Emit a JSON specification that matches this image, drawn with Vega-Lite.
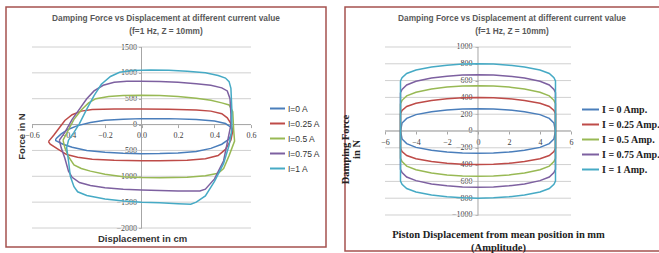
{
  "$schema": "https://vega.github.io/schema/vega-lite/v6.json",
  "padding": {"left": 5, "top": 6, "right": 0, "bottom": 0},
  "background": "white",
  "spacing": 12,
  "config": {
    "view": {"stroke": "#a5524f", "strokeWidth": 1.5},
    "axis": {"labelOverlap": false, "labelFlush": false, "labelBound": false},
    "title": {"anchor": "middle", "font": "Liberation Sans", "fontSize": 8.3, "fontWeight": "bold", "color": "#595959", "subtitleFont": "Liberation Sans", "subtitleFontSize": 8.3, "subtitleFontWeight": "bold", "subtitleColor": "#595959", "subtitlePadding": 4, "offset": -28}
  },
  "resolve": {"scale": {"color": "independent", "x": "independent", "y": "independent"}, "legend": {"color": "independent"}},
  "datasets": {
    "left": [
      {"c":"I=0 A","o":1,"x":-0.47,"y":-280},{"c":"I=0 A","o":2,"x":-0.44,"y":-180},{"c":"I=0 A","o":3,"x":-0.40,"y":-90},{"c":"I=0 A","o":4,"x":-0.35,"y":-20},{"c":"I=0 A","o":5,"x":-0.28,"y":40},{"c":"I=0 A","o":6,"x":-0.2,"y":85},{"c":"I=0 A","o":7,"x":-0.1,"y":105},{"c":"I=0 A","o":8,"x":0,"y":115},{"c":"I=0 A","o":9,"x":0.15,"y":115},{"c":"I=0 A","o":10,"x":0.3,"y":100},{"c":"I=0 A","o":11,"x":0.4,"y":70},{"c":"I=0 A","o":12,"x":0.46,"y":20},{"c":"I=0 A","o":13,"x":0.49,"y":-50},{"c":"I=0 A","o":14,"x":0.5,"y":-130},{"c":"I=0 A","o":15,"x":0.48,"y":-280},{"c":"I=0 A","o":16,"x":0.44,"y":-380},{"c":"I=0 A","o":17,"x":0.38,"y":-460},{"c":"I=0 A","o":18,"x":0.3,"y":-520},{"c":"I=0 A","o":19,"x":0.2,"y":-550},{"c":"I=0 A","o":20,"x":0.1,"y":-560},{"c":"I=0 A","o":21,"x":0,"y":-562},{"c":"I=0 A","o":22,"x":-0.1,"y":-555},{"c":"I=0 A","o":23,"x":-0.2,"y":-535},{"c":"I=0 A","o":24,"x":-0.3,"y":-500},{"c":"I=0 A","o":25,"x":-0.38,"y":-440},{"c":"I=0 A","o":26,"x":-0.43,"y":-380},{"c":"I=0 A","o":27,"x":-0.47,"y":-310},{"c":"I=0 A","o":28,"x":-0.47,"y":-280},
      {"c":"I=0.25 A","o":1,"x":-0.51,"y":-330},{"c":"I=0.25 A","o":2,"x":-0.48,"y":-200},{"c":"I=0.25 A","o":3,"x":-0.45,"y":-60},{"c":"I=0.25 A","o":4,"x":-0.42,"y":80},{"c":"I=0.25 A","o":5,"x":-0.38,"y":190},{"c":"I=0.25 A","o":6,"x":-0.33,"y":260},{"c":"I=0.25 A","o":7,"x":-0.27,"y":290},{"c":"I=0.25 A","o":8,"x":-0.15,"y":300},{"c":"I=0.25 A","o":9,"x":0,"y":300},{"c":"I=0.25 A","o":10,"x":0.15,"y":295},{"c":"I=0.25 A","o":11,"x":0.3,"y":280},{"c":"I=0.25 A","o":12,"x":0.38,"y":260},{"c":"I=0.25 A","o":13,"x":0.44,"y":210},{"c":"I=0.25 A","o":14,"x":0.47,"y":130},{"c":"I=0.25 A","o":15,"x":0.49,"y":20},{"c":"I=0.25 A","o":16,"x":0.5,"y":-120},{"c":"I=0.25 A","o":17,"x":0.49,"y":-300},{"c":"I=0.25 A","o":18,"x":0.46,"y":-480},{"c":"I=0.25 A","o":19,"x":0.42,"y":-600},{"c":"I=0.25 A","o":20,"x":0.35,"y":-660},{"c":"I=0.25 A","o":21,"x":0.25,"y":-690},{"c":"I=0.25 A","o":22,"x":0.1,"y":-700},{"c":"I=0.25 A","o":23,"x":0,"y":-700},{"c":"I=0.25 A","o":24,"x":-0.15,"y":-690},{"c":"I=0.25 A","o":25,"x":-0.27,"y":-670},{"c":"I=0.25 A","o":26,"x":-0.35,"y":-630},{"c":"I=0.25 A","o":27,"x":-0.41,"y":-580},{"c":"I=0.25 A","o":28,"x":-0.46,"y":-470},{"c":"I=0.25 A","o":29,"x":-0.5,"y":-380},{"c":"I=0.25 A","o":30,"x":-0.51,"y":-330},
      {"c":"I=0.5 A","o":1,"x":-0.43,"y":-300},{"c":"I=0.5 A","o":2,"x":-0.40,"y":-100},{"c":"I=0.5 A","o":3,"x":-0.37,"y":100},{"c":"I=0.5 A","o":4,"x":-0.33,"y":280},{"c":"I=0.5 A","o":5,"x":-0.29,"y":420},{"c":"I=0.5 A","o":6,"x":-0.25,"y":500},{"c":"I=0.5 A","o":7,"x":-0.18,"y":545},{"c":"I=0.5 A","o":8,"x":-0.1,"y":560},{"c":"I=0.5 A","o":9,"x":0,"y":565},{"c":"I=0.5 A","o":10,"x":0.1,"y":560},{"c":"I=0.5 A","o":11,"x":0.2,"y":545},{"c":"I=0.5 A","o":12,"x":0.3,"y":510},{"c":"I=0.5 A","o":13,"x":0.38,"y":470},{"c":"I=0.5 A","o":14,"x":0.44,"y":420},{"c":"I=0.5 A","o":15,"x":0.48,"y":380},{"c":"I=0.5 A","o":16,"x":0.5,"y":250},{"c":"I=0.5 A","o":17,"x":0.505,"y":-100},{"c":"I=0.5 A","o":18,"x":0.51,"y":-320},{"c":"I=0.5 A","o":19,"x":0.48,"y":-600},{"c":"I=0.5 A","o":20,"x":0.45,"y":-850},{"c":"I=0.5 A","o":21,"x":0.42,"y":-940},{"c":"I=0.5 A","o":22,"x":0.35,"y":-990},{"c":"I=0.5 A","o":23,"x":0.25,"y":-1020},{"c":"I=0.5 A","o":24,"x":0.1,"y":-1030},{"c":"I=0.5 A","o":25,"x":0,"y":-1025},{"c":"I=0.5 A","o":26,"x":-0.1,"y":-1010},{"c":"I=0.5 A","o":27,"x":-0.2,"y":-960},{"c":"I=0.5 A","o":28,"x":-0.28,"y":-900},{"c":"I=0.5 A","o":29,"x":-0.33,"y":-850},{"c":"I=0.5 A","o":30,"x":-0.37,"y":-780},{"c":"I=0.5 A","o":31,"x":-0.40,"y":-620},{"c":"I=0.5 A","o":32,"x":-0.42,"y":-450},{"c":"I=0.5 A","o":33,"x":-0.43,"y":-300},
      {"c":"I=0.75 A","o":1,"x":-0.45,"y":-300},{"c":"I=0.75 A","o":2,"x":-0.42,"y":-150},{"c":"I=0.75 A","o":3,"x":-0.38,"y":100},{"c":"I=0.75 A","o":4,"x":-0.34,"y":300},{"c":"I=0.75 A","o":5,"x":-0.30,"y":500},{"c":"I=0.75 A","o":6,"x":-0.26,"y":650},{"c":"I=0.75 A","o":7,"x":-0.21,"y":760},{"c":"I=0.75 A","o":8,"x":-0.15,"y":820},{"c":"I=0.75 A","o":9,"x":-0.08,"y":840},{"c":"I=0.75 A","o":10,"x":0,"y":840},{"c":"I=0.75 A","o":11,"x":0.1,"y":835},{"c":"I=0.75 A","o":12,"x":0.2,"y":820},{"c":"I=0.75 A","o":13,"x":0.3,"y":790},{"c":"I=0.75 A","o":14,"x":0.38,"y":760},{"c":"I=0.75 A","o":15,"x":0.44,"y":710},{"c":"I=0.75 A","o":16,"x":0.47,"y":650},{"c":"I=0.75 A","o":17,"x":0.485,"y":500},{"c":"I=0.75 A","o":18,"x":0.49,"y":200},{"c":"I=0.75 A","o":19,"x":0.49,"y":0},{"c":"I=0.75 A","o":20,"x":0.47,"y":-350},{"c":"I=0.75 A","o":21,"x":0.45,"y":-700},{"c":"I=0.75 A","o":22,"x":0.40,"y":-1050},{"c":"I=0.75 A","o":23,"x":0.35,"y":-1250},{"c":"I=0.75 A","o":24,"x":0.32,"y":-1285},{"c":"I=0.75 A","o":25,"x":0.2,"y":-1285},{"c":"I=0.75 A","o":26,"x":0.1,"y":-1275},{"c":"I=0.75 A","o":27,"x":0,"y":-1265},{"c":"I=0.75 A","o":28,"x":-0.1,"y":-1250},{"c":"I=0.75 A","o":29,"x":-0.2,"y":-1220},{"c":"I=0.75 A","o":30,"x":-0.28,"y":-1180},{"c":"I=0.75 A","o":31,"x":-0.34,"y":-1120},{"c":"I=0.75 A","o":32,"x":-0.38,"y":-1020},{"c":"I=0.75 A","o":33,"x":-0.40,"y":-900},{"c":"I=0.75 A","o":34,"x":-0.42,"y":-650},{"c":"I=0.75 A","o":35,"x":-0.44,"y":-450},{"c":"I=0.75 A","o":36,"x":-0.45,"y":-300},
      {"c":"I=1 A","o":1,"x":-0.40,"y":-300},{"c":"I=1 A","o":2,"x":-0.37,"y":-150},{"c":"I=1 A","o":3,"x":-0.34,"y":20},{"c":"I=1 A","o":4,"x":-0.30,"y":300},{"c":"I=1 A","o":5,"x":-0.26,"y":560},{"c":"I=1 A","o":6,"x":-0.22,"y":780},{"c":"I=1 A","o":7,"x":-0.17,"y":930},{"c":"I=1 A","o":8,"x":-0.12,"y":1010},{"c":"I=1 A","o":9,"x":-0.05,"y":1045},{"c":"I=1 A","o":10,"x":0.05,"y":1055},{"c":"I=1 A","o":11,"x":0.15,"y":1050},{"c":"I=1 A","o":12,"x":0.25,"y":1030},{"c":"I=1 A","o":13,"x":0.35,"y":1000},{"c":"I=1 A","o":14,"x":0.42,"y":950},{"c":"I=1 A","o":15,"x":0.46,"y":900},{"c":"I=1 A","o":16,"x":0.48,"y":830},{"c":"I=1 A","o":17,"x":0.49,"y":700},{"c":"I=1 A","o":18,"x":0.495,"y":300},{"c":"I=1 A","o":19,"x":0.495,"y":-100},{"c":"I=1 A","o":20,"x":0.48,"y":-400},{"c":"I=1 A","o":21,"x":0.45,"y":-750},{"c":"I=1 A","o":22,"x":0.40,"y":-1100},{"c":"I=1 A","o":23,"x":0.35,"y":-1380},{"c":"I=1 A","o":24,"x":0.30,"y":-1500},{"c":"I=1 A","o":25,"x":0.27,"y":-1540},{"c":"I=1 A","o":26,"x":0.2,"y":-1530},{"c":"I=1 A","o":27,"x":0.1,"y":-1510},{"c":"I=1 A","o":28,"x":0,"y":-1500},{"c":"I=1 A","o":29,"x":-0.1,"y":-1480},{"c":"I=1 A","o":30,"x":-0.2,"y":-1440},{"c":"I=1 A","o":31,"x":-0.3,"y":-1370},{"c":"I=1 A","o":32,"x":-0.35,"y":-1300},{"c":"I=1 A","o":33,"x":-0.37,"y":-1200},{"c":"I=1 A","o":34,"x":-0.39,"y":-1000},{"c":"I=1 A","o":35,"x":-0.40,"y":-700},{"c":"I=1 A","o":36,"x":-0.41,"y":-450},{"c":"I=1 A","o":37,"x":-0.40,"y":-300}
    ],
    "right": [
      {"c":"I = 0 Amp.","o":1,"x":-5,"y":0},{"c":"I = 0 Amp.","o":2,"x":-4.9,"y":95},{"c":"I = 0 Amp.","o":3,"x":-4.6,"y":150},{"c":"I = 0 Amp.","o":4,"x":-4,"y":195},{"c":"I = 0 Amp.","o":5,"x":-3,"y":230},{"c":"I = 0 Amp.","o":6,"x":-2,"y":250},{"c":"I = 0 Amp.","o":7,"x":-1,"y":262},{"c":"I = 0 Amp.","o":8,"x":0,"y":265},{"c":"I = 0 Amp.","o":9,"x":1,"y":262},{"c":"I = 0 Amp.","o":10,"x":2,"y":250},{"c":"I = 0 Amp.","o":11,"x":3,"y":230},{"c":"I = 0 Amp.","o":12,"x":4,"y":195},{"c":"I = 0 Amp.","o":13,"x":4.6,"y":150},{"c":"I = 0 Amp.","o":14,"x":4.9,"y":95},{"c":"I = 0 Amp.","o":15,"x":5,"y":0},{"c":"I = 0 Amp.","o":16,"x":4.9,"y":-95},{"c":"I = 0 Amp.","o":17,"x":4.6,"y":-150},{"c":"I = 0 Amp.","o":18,"x":4,"y":-195},{"c":"I = 0 Amp.","o":19,"x":3,"y":-230},{"c":"I = 0 Amp.","o":20,"x":2,"y":-250},{"c":"I = 0 Amp.","o":21,"x":1,"y":-262},{"c":"I = 0 Amp.","o":22,"x":0,"y":-265},{"c":"I = 0 Amp.","o":23,"x":-1,"y":-262},{"c":"I = 0 Amp.","o":24,"x":-2,"y":-250},{"c":"I = 0 Amp.","o":25,"x":-3,"y":-230},{"c":"I = 0 Amp.","o":26,"x":-4,"y":-195},{"c":"I = 0 Amp.","o":27,"x":-4.6,"y":-150},{"c":"I = 0 Amp.","o":28,"x":-4.9,"y":-95},{"c":"I = 0 Amp.","o":29,"x":-5,"y":0},
      {"c":"I = 0.25 Amp.","o":1,"x":-5,"y":205},{"c":"I = 0.25 Amp.","o":2,"x":-4.9,"y":245},{"c":"I = 0.25 Amp.","o":3,"x":-4.6,"y":292},{"c":"I = 0.25 Amp.","o":4,"x":-4,"y":330},{"c":"I = 0.25 Amp.","o":5,"x":-3,"y":364},{"c":"I = 0.25 Amp.","o":6,"x":-2,"y":385},{"c":"I = 0.25 Amp.","o":7,"x":-1,"y":396},{"c":"I = 0.25 Amp.","o":8,"x":0,"y":400},{"c":"I = 0.25 Amp.","o":9,"x":1,"y":396},{"c":"I = 0.25 Amp.","o":10,"x":2,"y":385},{"c":"I = 0.25 Amp.","o":11,"x":3,"y":364},{"c":"I = 0.25 Amp.","o":12,"x":4,"y":330},{"c":"I = 0.25 Amp.","o":13,"x":4.6,"y":292},{"c":"I = 0.25 Amp.","o":14,"x":4.9,"y":245},{"c":"I = 0.25 Amp.","o":15,"x":5,"y":205},{"c":"I = 0.25 Amp.","o":16,"x":5,"y":-205},{"c":"I = 0.25 Amp.","o":17,"x":4.9,"y":-245},{"c":"I = 0.25 Amp.","o":18,"x":4.6,"y":-292},{"c":"I = 0.25 Amp.","o":19,"x":4,"y":-330},{"c":"I = 0.25 Amp.","o":20,"x":3,"y":-364},{"c":"I = 0.25 Amp.","o":21,"x":2,"y":-385},{"c":"I = 0.25 Amp.","o":22,"x":1,"y":-396},{"c":"I = 0.25 Amp.","o":23,"x":0,"y":-400},{"c":"I = 0.25 Amp.","o":24,"x":-1,"y":-396},{"c":"I = 0.25 Amp.","o":25,"x":-2,"y":-385},{"c":"I = 0.25 Amp.","o":26,"x":-3,"y":-364},{"c":"I = 0.25 Amp.","o":27,"x":-4,"y":-330},{"c":"I = 0.25 Amp.","o":28,"x":-4.6,"y":-292},{"c":"I = 0.25 Amp.","o":29,"x":-4.9,"y":-245},{"c":"I = 0.25 Amp.","o":30,"x":-5,"y":-205},{"c":"I = 0.25 Amp.","o":31,"x":-5,"y":205},
      {"c":"I = 0.5 Amp.","o":1,"x":-5,"y":325},{"c":"I = 0.5 Amp.","o":2,"x":-4.9,"y":365},{"c":"I = 0.5 Amp.","o":3,"x":-4.6,"y":418},{"c":"I = 0.5 Amp.","o":4,"x":-4,"y":461},{"c":"I = 0.5 Amp.","o":5,"x":-3,"y":500},{"c":"I = 0.5 Amp.","o":6,"x":-2,"y":523},{"c":"I = 0.5 Amp.","o":7,"x":-1,"y":536},{"c":"I = 0.5 Amp.","o":8,"x":0,"y":540},{"c":"I = 0.5 Amp.","o":9,"x":1,"y":536},{"c":"I = 0.5 Amp.","o":10,"x":2,"y":523},{"c":"I = 0.5 Amp.","o":11,"x":3,"y":500},{"c":"I = 0.5 Amp.","o":12,"x":4,"y":461},{"c":"I = 0.5 Amp.","o":13,"x":4.6,"y":418},{"c":"I = 0.5 Amp.","o":14,"x":4.9,"y":365},{"c":"I = 0.5 Amp.","o":15,"x":5,"y":325},{"c":"I = 0.5 Amp.","o":16,"x":5,"y":-325},{"c":"I = 0.5 Amp.","o":17,"x":4.9,"y":-365},{"c":"I = 0.5 Amp.","o":18,"x":4.6,"y":-418},{"c":"I = 0.5 Amp.","o":19,"x":4,"y":-461},{"c":"I = 0.5 Amp.","o":20,"x":3,"y":-500},{"c":"I = 0.5 Amp.","o":21,"x":2,"y":-523},{"c":"I = 0.5 Amp.","o":22,"x":1,"y":-536},{"c":"I = 0.5 Amp.","o":23,"x":0,"y":-540},{"c":"I = 0.5 Amp.","o":24,"x":-1,"y":-536},{"c":"I = 0.5 Amp.","o":25,"x":-2,"y":-523},{"c":"I = 0.5 Amp.","o":26,"x":-3,"y":-500},{"c":"I = 0.5 Amp.","o":27,"x":-4,"y":-461},{"c":"I = 0.5 Amp.","o":28,"x":-4.6,"y":-418},{"c":"I = 0.5 Amp.","o":29,"x":-4.9,"y":-365},{"c":"I = 0.5 Amp.","o":30,"x":-5,"y":-325},{"c":"I = 0.5 Amp.","o":31,"x":-5,"y":325},
      {"c":"I = 0.75 Amp.","o":1,"x":-5,"y":455},{"c":"I = 0.75 Amp.","o":2,"x":-4.9,"y":495},{"c":"I = 0.75 Amp.","o":3,"x":-4.6,"y":548},{"c":"I = 0.75 Amp.","o":4,"x":-4,"y":591},{"c":"I = 0.75 Amp.","o":5,"x":-3,"y":630},{"c":"I = 0.75 Amp.","o":6,"x":-2,"y":653},{"c":"I = 0.75 Amp.","o":7,"x":-1,"y":666},{"c":"I = 0.75 Amp.","o":8,"x":0,"y":670},{"c":"I = 0.75 Amp.","o":9,"x":1,"y":666},{"c":"I = 0.75 Amp.","o":10,"x":2,"y":653},{"c":"I = 0.75 Amp.","o":11,"x":3,"y":630},{"c":"I = 0.75 Amp.","o":12,"x":4,"y":591},{"c":"I = 0.75 Amp.","o":13,"x":4.6,"y":548},{"c":"I = 0.75 Amp.","o":14,"x":4.9,"y":495},{"c":"I = 0.75 Amp.","o":15,"x":5,"y":455},{"c":"I = 0.75 Amp.","o":16,"x":5,"y":-455},{"c":"I = 0.75 Amp.","o":17,"x":4.9,"y":-495},{"c":"I = 0.75 Amp.","o":18,"x":4.6,"y":-548},{"c":"I = 0.75 Amp.","o":19,"x":4,"y":-591},{"c":"I = 0.75 Amp.","o":20,"x":3,"y":-630},{"c":"I = 0.75 Amp.","o":21,"x":2,"y":-653},{"c":"I = 0.75 Amp.","o":22,"x":1,"y":-666},{"c":"I = 0.75 Amp.","o":23,"x":0,"y":-670},{"c":"I = 0.75 Amp.","o":24,"x":-1,"y":-666},{"c":"I = 0.75 Amp.","o":25,"x":-2,"y":-653},{"c":"I = 0.75 Amp.","o":26,"x":-3,"y":-630},{"c":"I = 0.75 Amp.","o":27,"x":-4,"y":-591},{"c":"I = 0.75 Amp.","o":28,"x":-4.6,"y":-548},{"c":"I = 0.75 Amp.","o":29,"x":-4.9,"y":-495},{"c":"I = 0.75 Amp.","o":30,"x":-5,"y":-455},{"c":"I = 0.75 Amp.","o":31,"x":-5,"y":455},
      {"c":"I = 1 Amp.","o":1,"x":-5,"y":595},{"c":"I = 1 Amp.","o":2,"x":-4.9,"y":635},{"c":"I = 1 Amp.","o":3,"x":-4.6,"y":685},{"c":"I = 1 Amp.","o":4,"x":-4,"y":726},{"c":"I = 1 Amp.","o":5,"x":-3,"y":762},{"c":"I = 1 Amp.","o":6,"x":-2,"y":784},{"c":"I = 1 Amp.","o":7,"x":-1,"y":796},{"c":"I = 1 Amp.","o":8,"x":0,"y":800},{"c":"I = 1 Amp.","o":9,"x":1,"y":796},{"c":"I = 1 Amp.","o":10,"x":2,"y":784},{"c":"I = 1 Amp.","o":11,"x":3,"y":762},{"c":"I = 1 Amp.","o":12,"x":4,"y":726},{"c":"I = 1 Amp.","o":13,"x":4.6,"y":685},{"c":"I = 1 Amp.","o":14,"x":4.9,"y":635},{"c":"I = 1 Amp.","o":15,"x":5,"y":595},{"c":"I = 1 Amp.","o":16,"x":5,"y":-595},{"c":"I = 1 Amp.","o":17,"x":4.9,"y":-635},{"c":"I = 1 Amp.","o":18,"x":4.6,"y":-685},{"c":"I = 1 Amp.","o":19,"x":4,"y":-726},{"c":"I = 1 Amp.","o":20,"x":3,"y":-762},{"c":"I = 1 Amp.","o":21,"x":2,"y":-784},{"c":"I = 1 Amp.","o":22,"x":1,"y":-796},{"c":"I = 1 Amp.","o":23,"x":0,"y":-800},{"c":"I = 1 Amp.","o":24,"x":-1,"y":-796},{"c":"I = 1 Amp.","o":25,"x":-2,"y":-784},{"c":"I = 1 Amp.","o":26,"x":-3,"y":-762},{"c":"I = 1 Amp.","o":27,"x":-4,"y":-726},{"c":"I = 1 Amp.","o":28,"x":-4.6,"y":-685},{"c":"I = 1 Amp.","o":29,"x":-4.9,"y":-635},{"c":"I = 1 Amp.","o":30,"x":-5,"y":-595},{"c":"I = 1 Amp.","o":31,"x":-5,"y":595}
    ],
    "leftGrid": [{"y":-2000},{"y":-1500},{"y":-1000},{"y":-500},{"y":0},{"y":500},{"y":1000},{"y":1500}],
    "rightGrid": [{"y":-1000},{"y":-800},{"y":-600},{"y":-400},{"y":-200},{"y":0},{"y":200},{"y":400},{"y":600},{"y":800},{"y":1000}],
    "one": [{"k": 1}]
  },
  "hconcat": [
    {
      "width": 320,
      "height": 240,
      "title": {"text": "Damping Force vs Displacement at different current value", "subtitle": "(f=1 Hz, Z = 10mm)"},
      "layer": [
        {
          "data": {"name": "leftGrid"},
          "mark": {"type": "rule", "color": "#d0d0d0", "strokeWidth": 1},
          "encoding": {"y": {"field": "y", "type": "quantitative"}, "x": {"datum": -0.6}, "x2": {"datum": 0.6}}
        },
        {
          "data": {"name": "one"},
          "mark": {"type": "rule", "color": "#a6a6a6", "strokeWidth": 1},
          "encoding": {"x": {"datum": 0}, "y": {"datum": -2000}, "y2": {"datum": 1500}}
        },
        {
          "data": {"name": "one"},
          "mark": {"type": "rule", "color": "#a6a6a6", "strokeWidth": 1},
          "encoding": {"y": {"datum": 0}, "x": {"datum": -0.6}, "x2": {"datum": 0.6}}
        },
        {
          "data": {"name": "left"},
          "mark": {"type": "line", "strokeWidth": 1.5, "clip": true},
          "encoding": {
            "x": {"field": "x", "type": "quantitative", "scale": {"domain": [-0.7425, 1.011], "nice": false, "zero": false},
              "axis": {"values": [-0.6, -0.4, -0.2, 0, 0.2, 0.4, 0.6], "tickCount": 20, "offset": -122.4, "domain": false, "grid": false, "ticks": true, "tickSize": 3, "tickColor": "#a6a6a6", "labelPadding": 4, "labelFont": "Liberation Serif", "labelFontSize": 8, "labelColor": "#404040", "labelFlush": false, "labelOverlap": false,
                "title": "Displacement in cm", "titleFont": "Liberation Sans", "titleFontSize": 9.5, "titleFontWeight": "bold", "titleColor": "#333333", "titleX": 136, "titleY": 114, "titleBaseline": "middle", "titleAlign": "center"}},
            "y": {"field": "y", "type": "quantitative", "scale": {"domain": [-2367.4, 2273.5], "nice": false, "zero": false},
              "axis": {"values": [-2000, -1500, -1000, -500, 0, 500, 1000, 1500], "tickCount": 20, "format": "d", "offset": -135.5, "domain": false, "grid": false, "ticks": true, "tickSize": 3, "tickColor": "#a6a6a6", "labelPadding": 2, "labelFont": "Liberation Serif", "labelFontSize": 8, "labelColor": "#404040", "labelFlush": false, "labelOverlap": false,
                "title": "Force in N", "titleFont": "Liberation Sans", "titleFontSize": 9.5, "titleFontWeight": "bold", "titleColor": "#333333", "titleX": -120.5, "titleY": 129, "titleBaseline": "middle", "titleAlign": "center", "titleAngle": 270}},
            "order": {"field": "o", "type": "quantitative"},
            "color": {"field": "c", "type": "nominal",
              "scale": {"domain": ["I=0 A", "I=0.25 A", "I=0.5 A", "I=0.75 A", "I=1 A"], "range": ["#4a7ebb", "#be4b48", "#98b954", "#7d60a0", "#46aac5"]},
              "legend": {"orient": "none", "legendX": 263, "legendY": 93, "title": null, "padding": 0, "symbolType": "stroke", "symbolSize": 225, "symbolStrokeWidth": 2, "rowPadding": 2, "labelFont": "Liberation Sans", "labelFontSize": 8.5, "labelColor": "#333333", "labelOffset": 2}}
          }
        }
      ]
    },
    {
      "width": 320,
      "height": 244,
      "title": {"text": "Damping Force vs Displacement at different current value", "subtitle": "(f=1 Hz, Z = 10mm)", "dx": 7},
      "layer": [
        {
          "data": {"name": "rightGrid"},
          "mark": {"type": "rule", "color": "#d0d0d0", "strokeWidth": 1},
          "encoding": {"y": {"field": "y", "type": "quantitative"}, "x": {"datum": -6}, "x2": {"datum": 6}}
        },
        {
          "data": {"name": "one"},
          "mark": {"type": "rule", "color": "#a6a6a6", "strokeWidth": 1},
          "encoding": {"x": {"datum": 0}, "y": {"datum": -1000}, "y2": {"datum": 1000}}
        },
        {
          "data": {"name": "one"},
          "mark": {"type": "rule", "color": "#a6a6a6", "strokeWidth": 1},
          "encoding": {"y": {"datum": 0}, "x": {"datum": -6}, "x2": {"datum": 6}}
        },
        {
          "data": {"name": "right"},
          "mark": {"type": "line", "strokeWidth": 1.5, "clip": true},
          "encoding": {
            "x": {"field": "x", "type": "quantitative", "scale": {"domain": [-8.58, 12.065], "nice": false, "zero": false},
              "axis": {"values": [-6, -4, -2, 0, 2, 4, 6], "tickCount": 20, "offset": -120, "domain": false, "grid": false, "ticks": true, "tickSize": 3, "tickColor": "#a6a6a6", "labelPadding": 4, "labelFont": "Liberation Serif", "labelFontSize": 8, "labelColor": "#404040", "labelFlush": false, "labelOverlap": false,
                "title": ["Piston Displacement from mean position in mm", "(Amplitude)"], "titleFont": "Liberation Serif", "titleFontSize": 10.5, "titleFontWeight": "bold", "titleColor": "#222222", "titleX": 153, "titleY": 103, "titleBaseline": "middle", "titleAlign": "center", "titleLineHeight": 13}},
            "y": {"field": "y", "type": "quantitative", "scale": {"domain": [-1428.6, 1476], "nice": false, "zero": false},
              "axis": {"values": [-1000, -800, -600, -400, -200, 0, 200, 400, 600, 800, 1000], "tickCount": 20, "format": "d", "offset": -133, "domain": false, "grid": false, "ticks": true, "tickSize": 3, "tickColor": "#a6a6a6", "labelPadding": 3, "labelFont": "Liberation Serif", "labelFontSize": 8, "labelColor": "#404040", "labelFlush": false, "labelOverlap": false,
                "title": ["Damping Force", "in N"], "titleFont": "Liberation Serif", "titleFontSize": 10.5, "titleFontWeight": "bold", "titleColor": "#222222", "titleX": -133, "titleY": 142, "titleBaseline": "middle", "titleAlign": "center", "titleAngle": 270, "titleLineHeight": 11}},
            "order": {"field": "o", "type": "quantitative"},
            "color": {"field": "c", "type": "nominal",
              "scale": {"domain": ["I = 0 Amp.", "I = 0.25 Amp.", "I = 0.5 Amp.", "I = 0.75 Amp.", "I = 1 Amp."], "range": ["#4a7ebb", "#be4b48", "#98b954", "#7d60a0", "#46aac5"]},
              "legend": {"orient": "none", "legendX": 236, "legendY": 93, "title": null, "padding": 0, "symbolType": "stroke", "symbolSize": 289, "symbolStrokeWidth": 2, "rowPadding": 0, "labelFont": "Liberation Serif", "labelFontSize": 10, "labelFontWeight": "bold", "labelColor": "#222222", "labelOffset": 2}}
          }
        }
      ]
    }
  ]
}
